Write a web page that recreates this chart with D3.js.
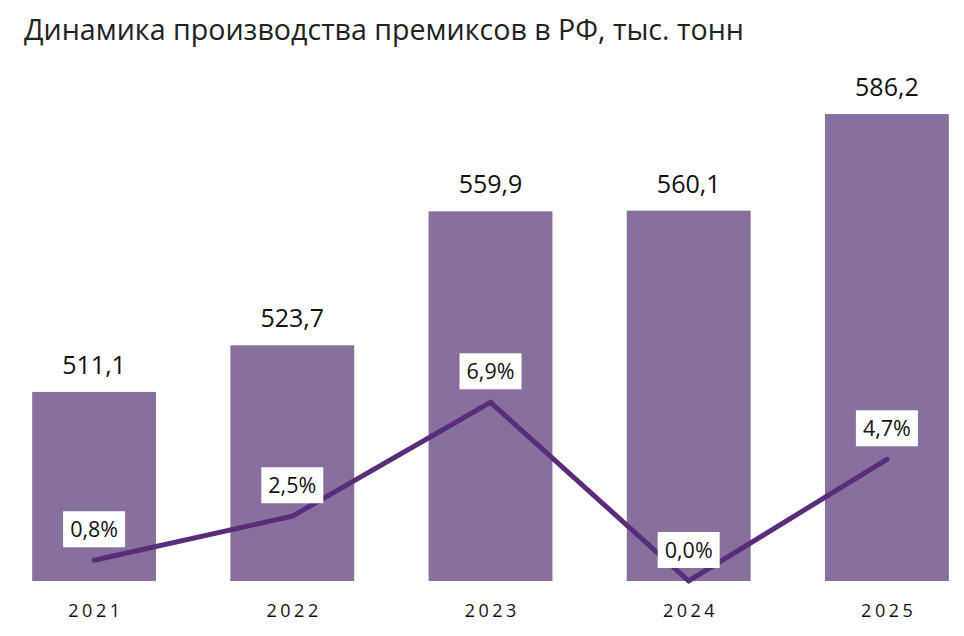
<!DOCTYPE html>
<html>
<head>
<meta charset="utf-8">
<script src="https://cdn.jsdelivr.net/npm/d3@7"></script>
<style>
  body { margin: 0; background: #fff; }
  text { font-family: "Open Sans", sans-serif; }
</style>
</head>
<body>
<svg id="chart" width="964" height="636"></svg>
<script>
// data
const years = ["2021", "2022", "2023", "2024", "2025"];
const volume = [511.1, 523.7, 559.9, 560.1, 586.2];   // тыс. тонн
const growth = [0.8, 2.5, 6.9, 0.0, 4.7];             // %

const fmt = d3.format(".1f");
const ru = v => fmt(v).replace(".", ",");

const svg = d3.select("#chart"),
    width = 964,
    height = 636,
    margin = {top: 63, bottom: 55};

const x = d3.scaleBand()
    .domain(years)
    .range([-5, 986])
    .paddingInner(0.375)
    .paddingOuter(0.1875);

const y = d3.scaleLinear()
    .domain([460, 600])
    .range([height - margin.bottom, margin.top]);

const yPct = d3.scaleLinear()
    .domain([0, 20])
    .range([height - margin.bottom, margin.top]);

// title
svg.append("text")
    .attr("x", 24)
    .attr("y", 40)
    .attr("font-size", 28.6)
    .attr("fill", "#222")
    .text("Динамика производства премиксов в РФ, тыс. тонн");

// bars
svg.append("g")
    .selectAll("rect")
    .data(volume)
    .enter()
    .append("rect")
    .attr("x", (d, i) => x(years[i]))
    .attr("y", d => y(d))
    .attr("width", x.bandwidth())
    .attr("height", d => y(460) - y(d))
    .attr("fill", "#87709d");

// bar values
svg.append("g")
    .selectAll("text")
    .data(volume)
    .enter()
    .append("text")
    .attr("x", (d, i) => x(years[i]) + x.bandwidth() / 2)
    .attr("y", d => y(d) - 18)
    .attr("text-anchor", "middle")
    .attr("font-size", 25)
    .attr("fill", "#111")
    .text(d => ru(d));

// x axis labels
const xAxis = svg.append("g")
    .attr("transform", "translate(0," + (height - margin.bottom) + ")")
    .call(d3.axisBottom(x).tickSize(0).tickPadding(0));
xAxis.select(".domain").remove();
xAxis.selectAll("text")
    .attr("y", 36)
    .attr("dy", 0)
    .attr("dx", "0.1em")
    .attr("font-size", 18)
    .attr("letter-spacing", "3.5px")
    .attr("fill", "#111")
    .style("font-family", "'Open Sans', sans-serif");

// growth line
const cx = i => x(years[i]) + x.bandwidth() / 2;
const line = d3.line()
    .x((d, i) => cx(i))
    .y(d => yPct(d));

svg.append("path")
    .datum(growth)
    .attr("d", line)
    .attr("fill", "none")
    .attr("stroke", "#5a2d7b")
    .attr("stroke-width", 5)
    .attr("stroke-linecap", "round")
    .attr("stroke-linejoin", "miter");

// growth labels
const lbl = svg.append("g")
    .selectAll("g")
    .data(growth)
    .enter()
    .append("g")
    .attr("transform", (d, i) => "translate(" + cx(i) + "," + (yPct(d) - 31) + ")");

lbl.append("rect")
    .attr("x", -31)
    .attr("y", -18)
    .attr("width", 62)
    .attr("height", 36)
    .attr("fill", "#fff");

lbl.append("text")
    .attr("y", 7.5)
    .attr("text-anchor", "middle")
    .attr("font-size", 21.5)
    .attr("fill", "#111")
    .text(d => ru(d) + "%");
</script>
</body>
</html>
